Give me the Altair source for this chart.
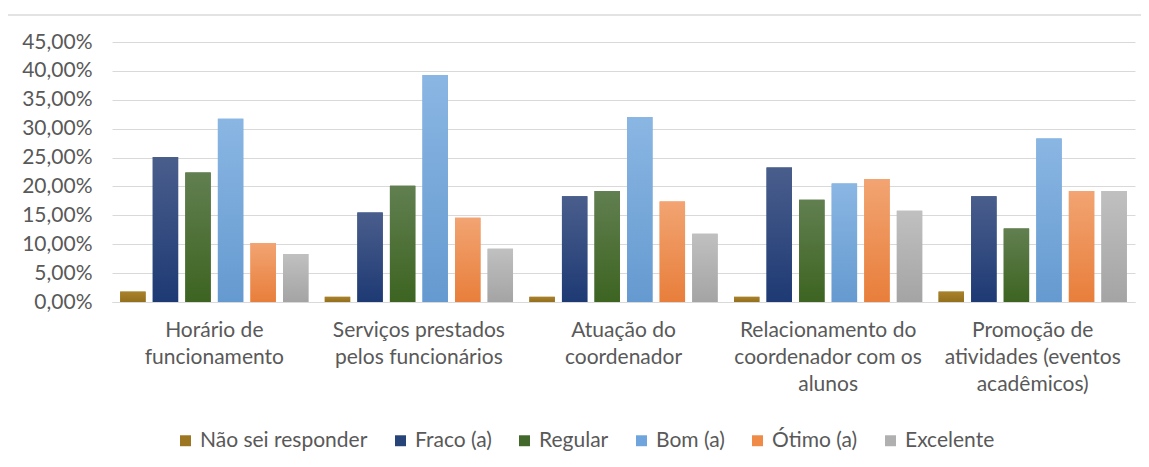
import altair as alt
import pandas as pd

categories = [
    "Horário de\nfuncionamento",
    "Serviços prestados\npelos funcionários",
    "Atuação do\ncoordenador",
    "Relacionamento do\ncoordenador com os\nalunos",
    "Promoção de\natividades (eventos\nacadêmicos)",
]
series = ["Não sei responder", "Fraco (a)", "Regular", "Bom (a)", "Ótimo (a)", "Excelente"]
nao_sei = [1.8, 0.9, 0.9, 0.9, 1.8]
fraco = [25.1, 15.5, 18.3, 23.3, 18.3]
regular = [22.4, 20.1, 19.2, 17.7, 12.7]
bom = [31.7, 39.3, 32.0, 20.5, 28.3]
otimo = [10.2, 14.6, 17.4, 21.3, 19.2]
excelente = [8.3, 9.2, 11.8, 15.8, 19.2]
colors = ["#9C7620", "#264478", "#43682B", "#6FA5DC", "#EF8A47", "#B0B0B0"]
top_colors = ["#A8822C", "#4A5E8C", "#617F50", "#8AB6E3", "#F2A472", "#C0C0C0"]
bottom_colors = ["#946F1C", "#1E3A74", "#3D6421", "#659AD0", "#E87E3B", "#A4A4A4"]
y_ticks = [0, 5, 10, 15, 20, 25, 30, 35, 40, 45]

rows = []
for s, vals in zip(series, [nao_sei, fraco, regular, bom, otimo, excelente]):
    for c, v in zip(categories, vals):
        rows.append({"cat": c, "series": s, "value": v})
df = pd.DataFrame(rows)

FONT = "Lato"
TXT = "#595959"

x_enc = alt.X(
    "cat:N",
    sort=categories,
    title=None,
    scale=alt.Scale(domain=categories, paddingInner=0.08, paddingOuter=0.04),
    axis=alt.Axis(
        labelAngle=0,
        labelExpr="split(datum.label, '\\n')",
        labelFont=FONT,
        labelFontSize=21,
        labelColor=TXT,
        labelLineHeight=27,
        labelPadding=17,
        labelBaseline="top",
        ticks=False,
        domainColor="#D9D9D9",
        domainWidth=1,
        labelLimit=300,
    ),
)
xoff_enc = alt.XOffset("series:N", sort=series, scale=alt.Scale(domain=series, paddingInner=0.22))
y_enc = alt.Y(
    "value:Q",
    title=None,
    scale=alt.Scale(domain=[0, 45]),
    axis=alt.Axis(
        values=y_ticks,
        labelExpr="replace(format(datum.value, '.2f'), '.', ',') + '%'",
        labelFont=FONT,
        labelFontSize=21,
        labelColor=TXT,
        labelPadding=20,
        ticks=False,
        domain=False,
        gridColor="#D9D9D9",
        gridWidth=1.2,
    ),
)

bars = alt.Chart(df).mark_bar().encode(
    x=x_enc,
    xOffset=xoff_enc,
    y=y_enc,
    color=alt.Color(
        "series:N",
        sort=series,
        scale=alt.Scale(domain=series, range=colors),
        legend=alt.Legend(
            title=None,
            orient="none",
            direction="horizontal",
            legendX=63,
            legendY=388,
            symbolType="square",
            symbolSize=120,
            symbolStrokeWidth=0,
            labelFont=FONT,
            labelFontSize=21,
            labelColor=TXT,
            labelOffset=4,
            labelLimit=400,
            columnPadding=22,
        ),
    ),
)

grad_layers = []
for s, tc, bc in zip(series, top_colors, bottom_colors):
    grad = alt.Gradient(
        gradient="linear",
        x1=0, y1=0, x2=0, y2=1,
        stops=[alt.GradientStop(color=tc, offset=0), alt.GradientStop(color=bc, offset=1)],
    )
    grad_layers.append(
        alt.Chart(df)
        .transform_filter(alt.datum.series == s)
        .mark_bar(fill=grad)
        .encode(x=x_enc, xOffset=xoff_enc, y=y_enc)
    )

top_line = alt.Chart(df).mark_rule(color="#E3E3E3", strokeWidth=2).encode(
    x=alt.value(-104), x2=alt.value(1037), y=alt.value(-27)
)

chart = alt.layer(top_line, bars, *grad_layers).properties(
    width=1023,
    height=260,
    background="white",
    autosize=alt.AutoSizeParams(type="none"),
    padding={"left": 104, "top": 34, "right": 6, "bottom": 157},
).configure_view(strokeWidth=0, stroke="transparent")

chart.save("out.html", embed_options={"renderer": "svg", "actions": False})
